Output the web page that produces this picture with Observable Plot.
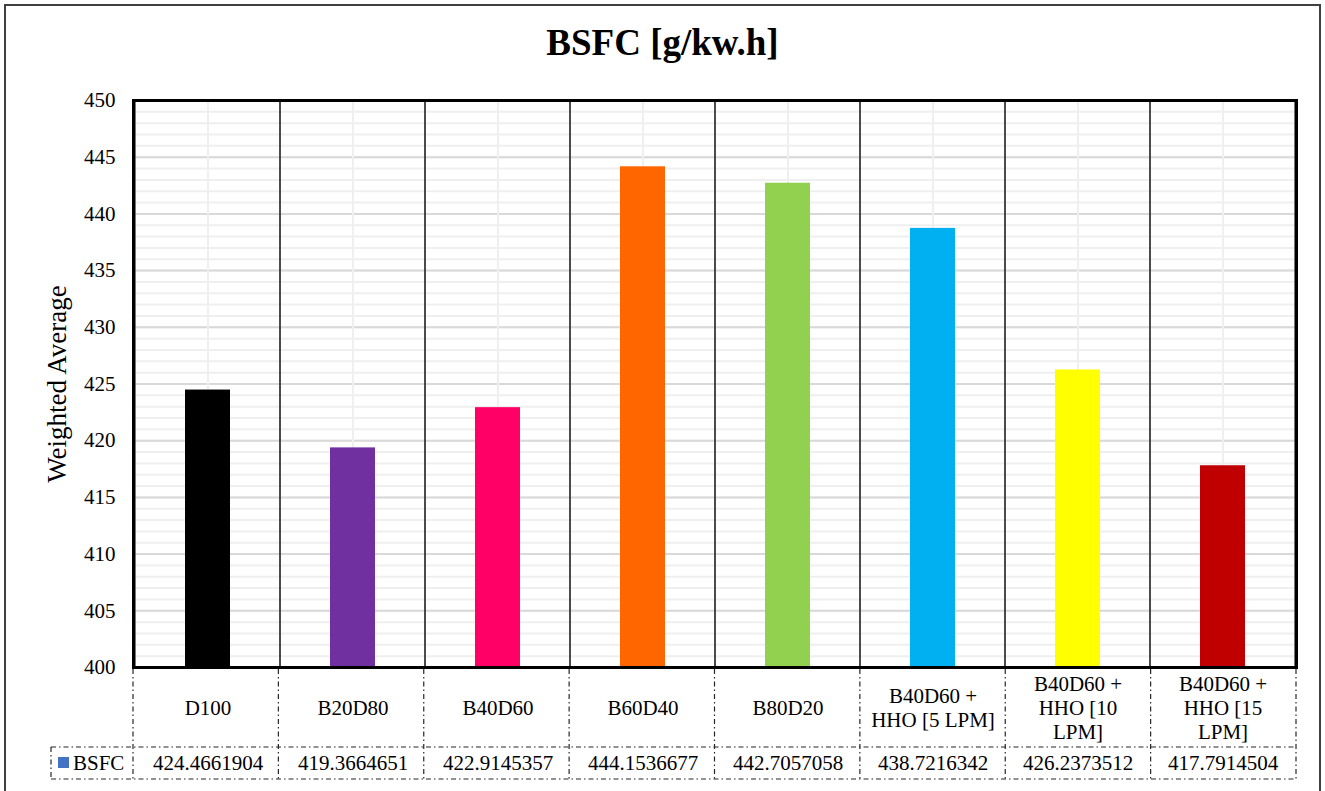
<!DOCTYPE html>
<html>
<head>
<meta charset="utf-8">
<script src="https://cdn.jsdelivr.net/npm/d3@7"></script>
<script src="https://cdn.jsdelivr.net/npm/@observablehq/plot@0.6"></script>
<style>
  html, body { margin: 0; padding: 0; background: #fff; }
  #chart { position: relative; width: 1325px; height: 791px; overflow: hidden; background: #fff;
           font-family: "Liberation Serif", "Times New Roman", serif; }
  #border { position: absolute; left: 4px; top: 4px; width: 1317px; height: 830px;
            border: 2px solid #404040; box-sizing: border-box; }
  #title { position: absolute; left: 0; top: 24px; width: 1325px; text-align: center;
           font-size: 37px; line-height: 37px; font-weight: bold; color: #000; }
  #plot { position: absolute; left: 0; top: 80px; }
  #plot svg, #plot svg text { font-family: "Liberation Serif", "Times New Roman", serif !important; }
</style>
</head>
<body>
<div id="chart">
  <div id="border"></div>
  <div id="title">BSFC [g/kw.h]</div>
  <div id="plot"></div>
</div>
<script>
// Fuel blends on the category axis
const categories = [
  "D100",
  "B20D80",
  "B40D60",
  "B60D40",
  "B80D20",
  "B40D60 +\nHHO [5 LPM]",
  "B40D60 +\nHHO [10\nLPM]",
  "B40D60 +\nHHO [15\nLPM]"
];
// Brake specific fuel consumption, weighted average [g/kW.h]
const bsfc = [424.4661904, 419.3664651, 422.9145357, 444.1536677, 442.7057058, 438.7216342, 426.2373512, 417.7914504];
const barColors = ["#000000", "#7030A0", "#FF0066", "#FF6600", "#92D050", "#00B0F0", "#FFFF00", "#C00000"];
const yTicks = [400, 405, 410, 415, 420, 425, 430, 435, 440, 445, 450];
const seriesName = "BSFC";
const seriesSwatch = "#4472C4";
const yLabel = "Weighted Average";

const rows = categories.map((name, i) => ({name, value: bsfc[i], color: barColors[i]}));
const yMin = yTicks[0], yMax = yTicks[yTicks.length - 1];
const minorTicks = d3.range(yMin, yMax + 1, 1);
const serif = "'Liberation Serif', 'Times New Roman', serif";

// Data table under the plot: dash-dot cell borders plus the series key
function dataTable(index, scales, values, dim) {
  const root = d3.create("svg:g");
  const left = dim.marginLeft, right = dim.width - dim.marginRight;
  const bottom = dim.height - dim.marginBottom;
  const step = (right - left) / categories.length;
  const rowTop = bottom + 80, rowBottom = bottom + 112;
  const keyLeft = left - 82;
  const lines = root.append("g")
    .attr("fill", "none").attr("stroke", "#262626").attr("stroke-width", 1.2)
    .attr("stroke-dasharray", "5,3,1.5,3");
  for (let k = 0; k <= categories.length; k++) {
    const x = left + k * step;
    lines.append("line").attr("x1", x).attr("x2", x).attr("y1", bottom + 2).attr("y2", rowBottom);
  }
  for (const y of [rowTop, rowBottom]) {
    lines.append("line").attr("x1", keyLeft).attr("x2", right).attr("y1", y).attr("y2", y);
  }
  lines.append("line").attr("x1", keyLeft).attr("x2", keyLeft).attr("y1", rowTop).attr("y2", rowBottom);
  root.append("rect").attr("x", keyLeft + 7).attr("y", rowTop + 10).attr("width", 11).attr("height", 11)
    .attr("fill", seriesSwatch);
  root.append("text").attr("x", keyLeft + 22).attr("y", rowTop + 16).attr("dy", "0.35em")
    .attr("text-anchor", "start").attr("font-size", 21).attr("fill", "#000").text(seriesName);
  return root.node();
}

const chart = Plot.plot({
  width: 1325,
  height: 711,
  marginTop: 20,
  marginRight: 29,
  marginBottom: 124,
  marginLeft: 133,
  style: {fontFamily: serif, fontSize: "21px", color: "#000", background: "transparent"},
  x: {domain: categories, padding: 0, axis: null},
  y: {domain: [yMin, yMax], ticks: yTicks, tickSize: 0, tickPadding: 18, label: null},
  color: {type: "identity"},
  marks: [
    Plot.ruleY(minorTicks, {stroke: "#efefef", strokeWidth: 2}),
    Plot.ruleY(yTicks, {stroke: "#d9d9d9", strokeWidth: 2}),
    Plot.ruleX(categories, {x: d => d, stroke: "#efefef", strokeWidth: 2}),
    Plot.barY(categories, {x: d => d, y1: yMin, y2: yMax, fill: "none", stroke: "#333", strokeWidth: 1.3}),
    Plot.barY(rows, {x: "name", y1: yMin, y2: "value", fill: "color", insetLeft: 50, insetRight: 50}),
    Plot.frame({stroke: "#000", strokeWidth: 3}),
    Plot.text(rows, {x: "name", text: "name", frameAnchor: "bottom", dy: 40,
                     lineAnchor: "middle", lineHeight: 1.13, fontSize: 21, fill: "#000"}),
    Plot.text(rows, {x: "name", text: d => String(d.value), frameAnchor: "bottom", dy: 96,
                     lineAnchor: "middle", fontSize: 21, fill: "#000"}),
    Plot.text([yLabel], {frameAnchor: "left", dx: -76, rotate: -90, textAnchor: "middle",
                         fontSize: 27, fill: "#000"}),
    dataTable
  ]
});
// y-axis tick labels use the same size as the table text
d3.select(chart).selectAll("g[aria-label='y-axis tick label'] text, g[aria-label='y-axis'] text")
  .attr("font-size", 21).style("font-size", "21px");
document.getElementById("plot").appendChild(chart);
</script>
</body>
</html>
